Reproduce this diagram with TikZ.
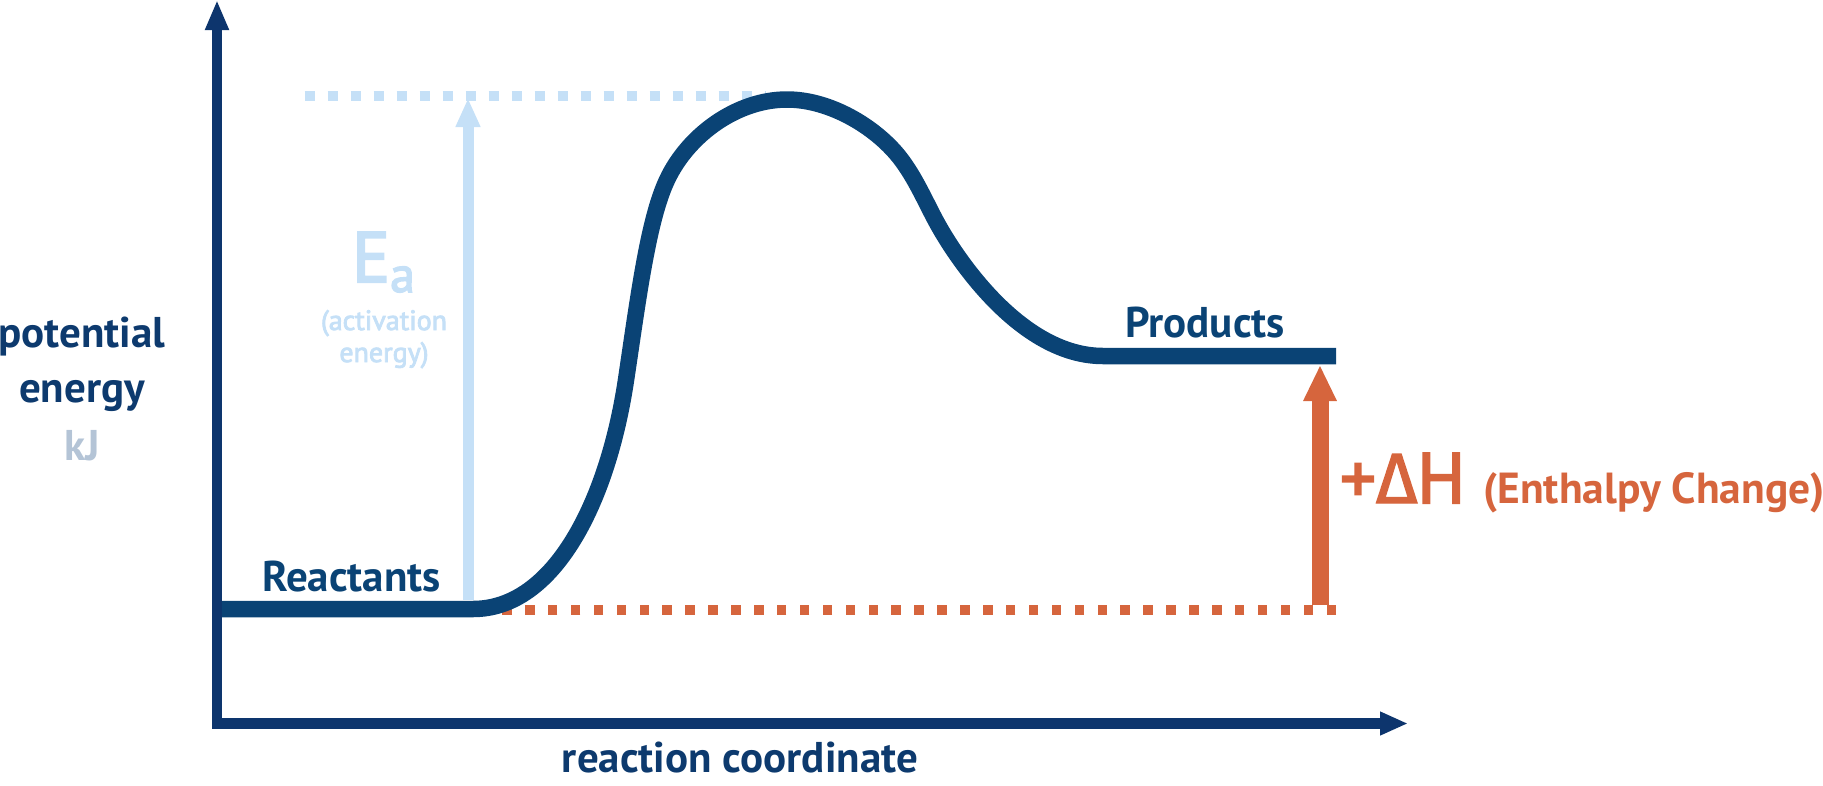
\documentclass[tikz,border=0pt]{standalone}
\usepackage{fontspec}
\setmainfont{PT Sans}
\newfontfamily\mediumfont[FakeBold=3]{PT Sans}
\newfontfamily\mediumgreek[FakeBold=2]{Fira Sans}
\usetikzlibrary{arrows.meta}

\definecolor{axisblue}{RGB}{13,53,109}
\definecolor{curveblue}{RGB}{10,67,117}
\definecolor{textblue}{RGB}{13,58,110}
\definecolor{paleblue}{RGB}{197,224,247}
\definecolor{kjgray}{RGB}{180,196,214}
\definecolor{heatorange}{RGB}{214,101,61}

\begin{document}
\begin{tikzpicture}[x=1pt,y=-1pt,
    axis/.style={draw=axisblue, line width=10.5pt, line join=miter},
    profile/.style={draw=curveblue, line width=16.5pt},
    bluedots/.style={draw=paleblue, line width=10pt, dash pattern=on 10pt off 13pt},
    orangedots/.style={draw=heatorange, line width=10pt, dash pattern=on 9.5pt off 13.4pt},
    lbl/.style={inner sep=0pt, anchor=base, font=\fontsize{43}{50}\selectfont\bfseries},
    small/.style={inner sep=0pt, anchor=base, text=paleblue, font=\fontsize{28}{32}\mediumfont}]
    \useasboundingbox (0,0) rectangle (1823,785);

    \coordinate (ytip) at (217,0);
    \coordinate (xtip) at (1408,723.5);
    \coordinate (reactL) at (221,609);
    \coordinate (prodR) at (1336,356);
    \coordinate (eabot) at (468,600);
    \coordinate (eatop) at (468,98);
    \coordinate (dhbot) at (1320,605);
    \coordinate (dhtop) at (1320,365);

    \draw[bluedots] (304.6,96) -- (765,96);
    \draw[orangedots] (1336,610) -- (495,610);

    \draw[draw=paleblue, line width=11pt, -{Triangle[width=23pt,length=29pt]}] (eabot) -- (eatop);
    \draw[draw=heatorange, line width=17pt, -{Triangle[width=31pt,length=36pt]}] (dhbot) -- (dhtop);

    \draw[profile] (reactL) -- (473,609) .. controls (555,609) and (608,500) .. (626,380)
        .. controls (638,300) and (648,220) .. (667,180)
        .. controls (688,135) and (737,99.5) .. (787,99.5)
        .. controls (830,99.5) and (875,126.7) .. (899,156.7)
        .. controls (915,176.7) and (926,203) .. (937,223)
        .. controls (959,263) and (1023,356) .. (1103,356) -- (prodR);

    \draw[axis, {Triangle[width=22pt,length=30pt]}-{Triangle[width=22pt,length=28pt]}] (ytip) |- (xtip);

    \node[lbl, text=textblue] (potential) at (82,347) {potential};
    \node[lbl, text=textblue] (energy) at (82,402) {energy};
    \node[lbl, text=kjgray] (kj) at (82,460) {kJ};

    \node[inner sep=0pt, anchor=base, text=paleblue, font=\fontsize{71}{80}\mediumfont] (ea) at (383.5,282)
        {E\raisebox{-10pt}{\fontsize{50}{50}\selectfont a}};
    \node[small] (activation) at (384,330) {(activation};
    \node[small] (energyb) at (384,362) {energy)};

    \node[lbl, text=curveblue] (reactants) at (351.5,591) {Reactants};
    \node[lbl, text=curveblue] (products) at (1205,337) {Products};

    \node[inner sep=0pt, anchor=base west, text=heatorange, font=\fontsize{71}{80}\mediumfont] (dh) at (1340,503)
        {+{\mediumgreek Δ}H};
    \node[inner sep=0pt, anchor=base west, text=heatorange, font=\fontsize{43.5}{50}\selectfont\bfseries] (enthalpy) at (1483,503)
        {(Enthalpy Change)};

    \node[lbl, text=textblue] (coord) at (740,772) {reaction coordinate};
\end{tikzpicture}
\end{document}
